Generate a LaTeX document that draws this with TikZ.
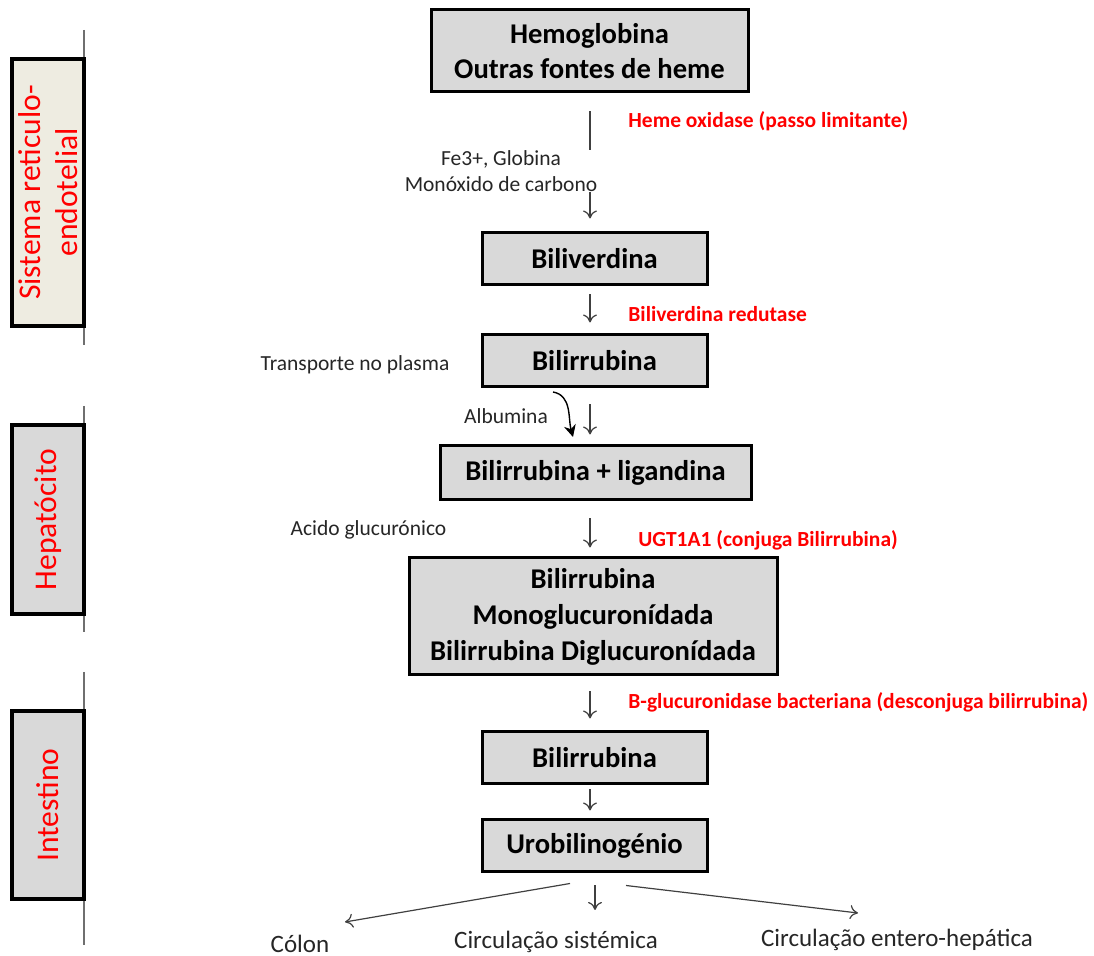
\documentclass[tikz,border=0pt]{standalone}
\usepackage{fontspec}
\setmainfont{Carlito}
\usetikzlibrary{arrows.meta,positioning}
\definecolor{hbBox}{HTML}{D9D9D9}
\definecolor{hbBeige}{HTML}{EEECE1}
\definecolor{hbRed}{HTML}{FF0000}
\definecolor{hbInk}{HTML}{404040}
\definecolor{hbRule}{HTML}{6F6F6F}
\tikzset{
    hbStep/.style={
        rectangle,
        draw=black,
        line width=1.5pt,
        fill=hbBox,
        align=center,
        font=\fontsize{14.3}{17.5}\selectfont\bfseries,
        inner sep=0pt
    },
    hbZone/.style={
        rectangle,
        draw=black,
        line width=1.8pt,
        fill=hbBox,
        rotate=90,
        align=center,
        text=hbRed,
        font=\fontsize{15.8}{18.5}\selectfont,
        minimum height=36pt,
        inner sep=0pt
    },
    % Labels
    hbEnzyme/.style={anchor=west, text=hbRed, font=\fontsize{10.75}{12.5}\selectfont\bfseries, inner sep=0pt},
    hbNote/.style={text=black!85, font=\fontsize{10.75}{13}\selectfont, align=center, inner sep=0pt},
    hbOut/.style={text=black!85, font=\fontsize{12.5}{14}\selectfont, inner sep=0pt},
    % Arrows
    hbLine/.style={draw=hbInk, line width=0.6pt},
    hbArrow/.style={hbLine, -{To[length=4pt,width=7pt]}},
    hbRuleLine/.style={draw=hbRule, line width=0.7pt}
}
\begin{document}
\begin{tikzpicture}[x=0.5pt,y=-0.5pt]
\useasboundingbox (0,0) rectangle (1094,956);
\coordinate (axis) at (590,0);

% steps
\node[hbStep, minimum width=158.5pt, minimum height=41pt] (hemo) at (589.5,51) {Hemoglobina\\Outras fontes de heme};
\node[hbStep, minimum width=112.5pt, minimum height=26pt] (biliv) at (594.5,259) {Biliverdina};
\node[hbStep, minimum width=112.5pt, minimum height=26pt] (bilir) at (594.5,361) {Bilirrubina};
\node[hbStep, minimum width=155.5pt, minimum height=27pt] (lig) at (595.5,473) {Bilirrubina + ligandina};
\node[hbStep, minimum width=184pt, minimum height=58.5pt, font=\fontsize{14.3}{18}\selectfont\bfseries] (gluc) at (593,616.5) {Bilirrubina\\Monoglucuronídada\\Bilirrubina Diglucuronídada};
\node[hbStep, minimum width=112.5pt, minimum height=26pt] (bilint) at (594.5,758) {Bilirrubina};
\node[hbStep, minimum width=112.5pt, minimum height=26pt] (urob) at (594.5,846) {Urobilinogénio};

% zones
\draw[hbRuleLine] (84,30) -- (84,345);
\node[hbZone, fill=hbBeige, minimum width=133.5pt] (zoneRES) at (48,192.5) {Sistema reticulo-\\endotelial};
\draw[hbRuleLine] (84,406) -- (84,632);
\node[hbZone, minimum width=94.5pt] (zoneHep) at (48,519.5) {Hepatócito};
\draw[hbRuleLine] (84,672) -- (84,945);
\node[hbZone, minimum width=94pt] (zoneInt) at (48,805) {Intestino};

% labels
\node[hbEnzyme] (hemeOx) at (628,121) {Heme oxidase (passo limitante)};
\node[hbNote] (fe) at (501,171) {Fe3+, Globina\\Monóxido de carbono};
\node[hbEnzyme] (redut) at (628,314) {Biliverdina redutase};
\node[hbNote] (plasma) at (355,365) {Transporte no plasma};
\node[hbNote] (alb) at (506,416) {Albumina};
\node[hbNote] (acido) at (368.5,530) {Acido glucurónico};
\node[hbEnzyme] (ugt) at (638,540) {UGT1A1 (conjuga Bilirrubina)};
\node[hbEnzyme] (bgluc) at (628,702) {B-glucuronidase bacteriana (desconjuga bilirrubina)};
\node[hbOut] (colon) at (300,944) {Cólon};
\node[hbOut] (sist) at (556,942) {Circulação sistémica};
\node[hbOut] (entero) at (897,940) {Circulação entero-hepática};

% connectors
\draw[hbLine, shorten <=9pt] (hemo.south -| axis) -- (590,150);
\draw[hbArrow, shorten >=6.5pt] (590,192) -- (biliv.north -| axis);
\draw[hbArrow, shorten <=4pt, shorten >=5.5pt] (biliv.south -| axis) -- (bilir.north -| axis);
\draw[hbArrow, shorten <=8pt, shorten >=5pt] (bilir.south -| axis) -- (lig.north -| axis);
\coordinate (albStart) at (553,392);
\coordinate (albEnd) at (573,437);
\draw[black, line width=0.7pt, -{Stealth[length=6pt,width=6pt]}] (albStart) to[out=-10,in=105] (albEnd);
\draw[hbArrow, shorten <=8.5pt, shorten >=4.5pt] (lig.south -| axis) -- (gluc.north -| axis);
\draw[hbArrow, shorten <=7.5pt, shorten >=6pt] (gluc.south -| axis) -- (bilint.north -| axis);
\draw[hbArrow, shorten <=2pt, shorten >=4pt] (bilint.south -| axis) -- (urob.north -| axis);
\coordinate (colonTip) at (345,922);
\coordinate (sistTip) at (595,910);
\coordinate (enteroTip) at (858,913);
\draw[hbArrow] ([xshift=-12.25pt,yshift=-5pt]urob.south) -- (colonTip);
\draw[hbArrow] ([xshift=0.25pt,yshift=-6pt]urob.south) -- (sistTip);
\draw[hbArrow] ([xshift=15.75pt,yshift=-6pt]urob.south) -- (enteroTip);
\end{tikzpicture}
\end{document}
